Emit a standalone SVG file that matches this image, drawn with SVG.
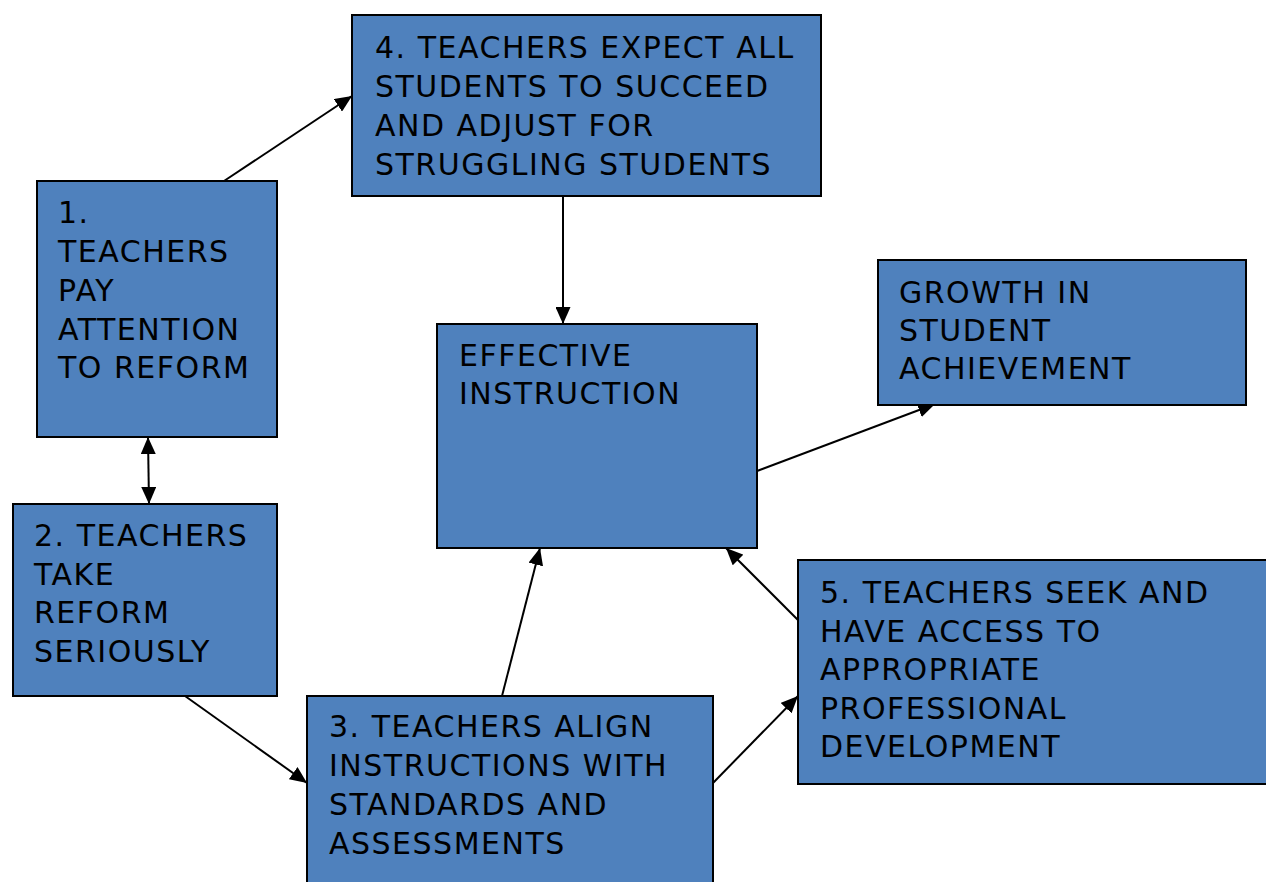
<svg xmlns="http://www.w3.org/2000/svg" width="1266" height="882" viewBox="0 0 1266 882">
<style>
.box{fill:#4F81BD;stroke:#000;stroke-width:2}
.t{font-family:"DejaVu Sans",sans-serif;font-size:30px;letter-spacing:1.5px;fill:#000}
.c{stroke:#000;stroke-width:2;fill:none}
</style>
<defs>
<marker id="ah" viewBox="0 0 17 15" refX="17" refY="7.5" markerWidth="17" markerHeight="15" markerUnits="userSpaceOnUse" orient="auto-start-reverse">
<path d="M0,0 L17,7.5 L0,15 Z" fill="#000"/>
</marker>
</defs>
<rect width="1266" height="882" fill="#fff"/>
<g id="connectors">
<line class="c" x1="224" y1="181" x2="352" y2="96" marker-end="url(#ah)"/>
<line class="c" x1="148" y1="437" x2="149" y2="504" marker-start="url(#ah)" marker-end="url(#ah)"/>
<line class="c" x1="563" y1="196" x2="563" y2="324" marker-end="url(#ah)"/>
<line class="c" x1="757" y1="471" x2="935" y2="404" marker-end="url(#ah)"/>
<line class="c" x1="502" y1="696" x2="540" y2="548" marker-end="url(#ah)"/>
<line class="c" x1="185" y1="696" x2="307" y2="783" marker-end="url(#ah)"/>
<line class="c" x1="713" y1="783" x2="798" y2="696" marker-end="url(#ah)"/>
<line class="c" x1="798" y1="620" x2="726" y2="548" marker-end="url(#ah)"/>
</g>
<g id="n1">
<rect class="box" x="37" y="181" width="240" height="256"/>
<text class="t"><tspan x="58" y="223">1.</tspan><tspan x="58" y="262">TEACHERS</tspan><tspan x="58" y="301">PAY</tspan><tspan x="58" y="340">ATTENTION</tspan><tspan x="58" y="378">TO REFORM</tspan></text>
</g>
<g id="n4">
<rect class="box" x="352" y="15" width="469" height="181"/>
<text class="t"><tspan x="375" y="58">4. TEACHERS EXPECT ALL</tspan><tspan x="375" y="97">STUDENTS TO SUCCEED</tspan><tspan x="375" y="136">AND ADJUST FOR</tspan><tspan x="375" y="175">STRUGGLING STUDENTS</tspan></text>
</g>
<g id="effective">
<rect class="box" x="437" y="324" width="320" height="224"/>
<text class="t"><tspan x="459" y="366">EFFECTIVE</tspan><tspan x="459" y="404">INSTRUCTION</tspan></text>
</g>
<g id="growth">
<rect class="box" x="878" y="260" width="368" height="145"/>
<text class="t"><tspan x="899" y="303">GROWTH IN</tspan><tspan x="899" y="341">STUDENT</tspan><tspan x="899" y="379">ACHIEVEMENT</tspan></text>
</g>
<g id="n2">
<rect class="box" x="13" y="504" width="264" height="192"/>
<text class="t"><tspan x="34" y="546">2. TEACHERS</tspan><tspan x="34" y="585">TAKE</tspan><tspan x="34" y="623">REFORM</tspan><tspan x="34" y="662">SERIOUSLY</tspan></text>
</g>
<g id="n3">
<rect class="box" x="307" y="696" width="406" height="200"/>
<text class="t"><tspan x="329" y="737">3. TEACHERS ALIGN</tspan><tspan x="329" y="776">INSTRUCTIONS WITH</tspan><tspan x="329" y="815">STANDARDS AND</tspan><tspan x="329" y="854">ASSESSMENTS</tspan></text>
</g>
<g id="n5">
<rect class="box" x="798" y="560" width="480" height="224"/>
<text class="t"><tspan x="820" y="603">5. TEACHERS SEEK AND</tspan><tspan x="820" y="642">HAVE ACCESS TO</tspan><tspan x="820" y="680">APPROPRIATE</tspan><tspan x="820" y="719">PROFESSIONAL</tspan><tspan x="820" y="757">DEVELOPMENT</tspan></text>
</g>
</svg>
